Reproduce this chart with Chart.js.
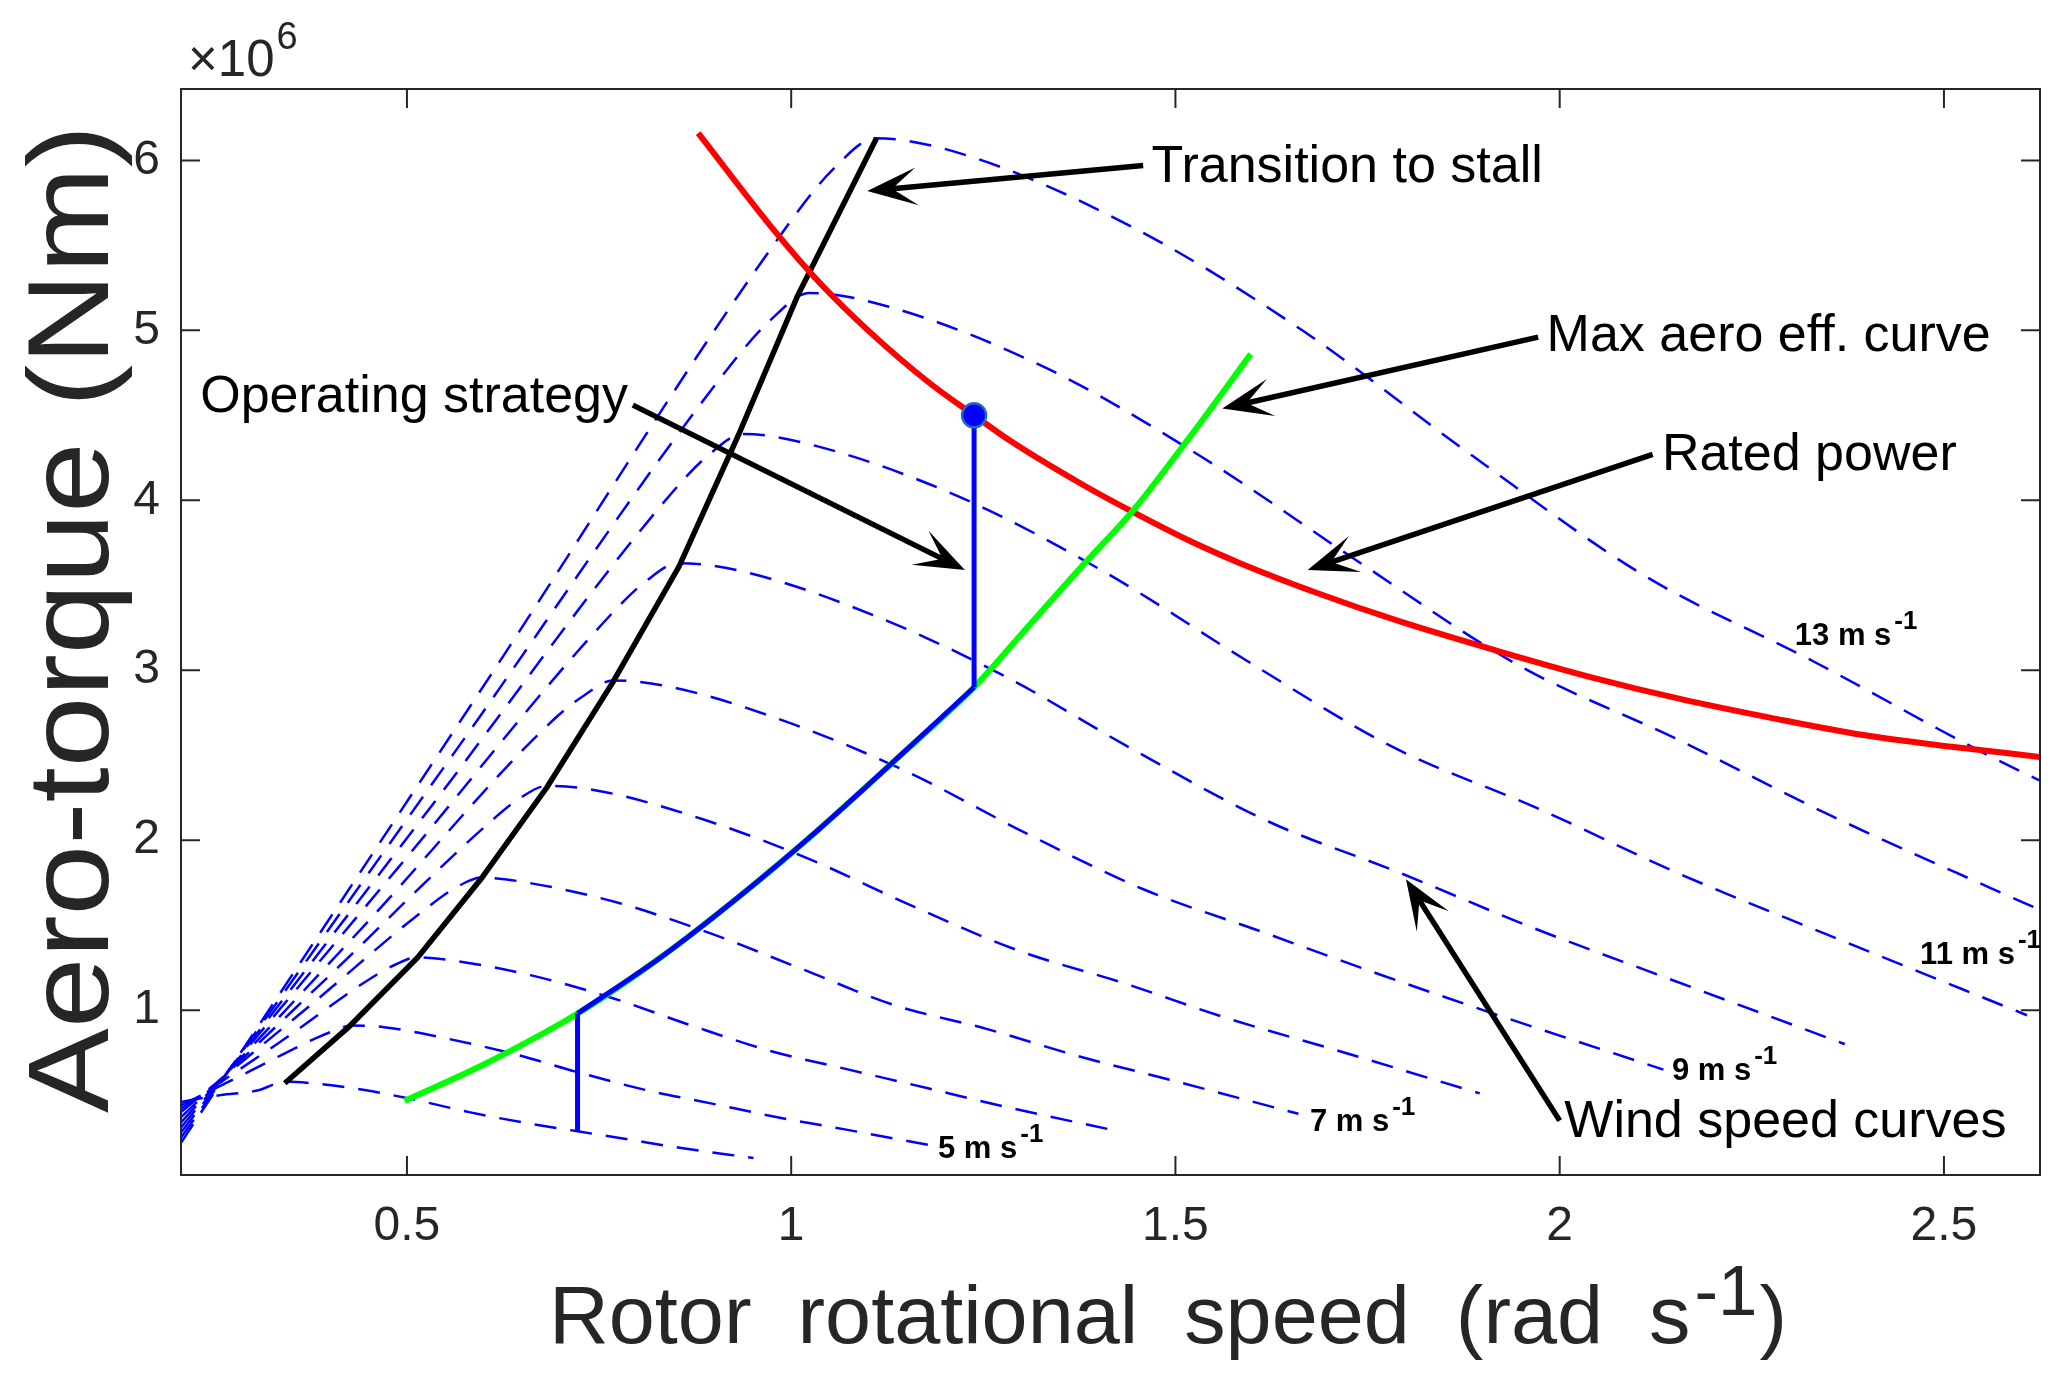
<!DOCTYPE html>
<html>
<head>
<meta charset="utf-8">
<script src="https://cdn.jsdelivr.net/npm/chart.js@4.4.0/dist/chart.umd.min.js"></script>
<style>
html, body { margin: 0; padding: 0; background: #fff; }
canvas { display: block; }
</style>
</head>
<body>
<canvas id="chart" width="2068" height="1383"></canvas>
<script>
const xTicks = [0.5, 1, 1.5, 2, 2.5];
const yTicks = [1, 2, 3, 4, 5, 6];

// wind speed curves: rotor speed (rad/s) vs aero torque (x10^6 Nm)
const ws4X = [0.206, 0.257, 0.308, 0.325, 0.342, 0.376, 0.445, 0.513, 0.581, 0.650, 0.718, 0.787, 0.855, 0.951];
const ws4T = [0.46, 0.50, 0.53, 0.56, 0.58, 0.57, 0.53, 0.47, 0.40, 0.34, 0.29, 0.24, 0.19, 0.13];
const ws5X = [0.206, 0.295, 0.384, 0.406, 0.427, 0.470, 0.555, 0.641, 0.726, 0.811, 0.897, 0.982, 1.068, 1.187];
const ws5T = [0.44, 0.64, 0.84, 0.88, 0.91, 0.90, 0.83, 0.74, 0.63, 0.53, 0.45, 0.37, 0.30, 0.20];
const ws6X = [0.206, 0.334, 0.461, 0.486, 0.512, 0.563, 0.666, 0.768, 0.870, 0.973, 1.075, 1.178, 1.280, 1.423];
const ws6T = [0.42, 0.81, 1.21, 1.27, 1.31, 1.29, 1.20, 1.07, 0.91, 0.76, 0.65, 0.54, 0.43, 0.29];
const ws7X = [0.206, 0.372, 0.537, 0.567, 0.597, 0.657, 0.776, 0.896, 1.015, 1.134, 1.254, 1.373, 1.493, 1.660];
const ws7T = [0.40, 1.02, 1.64, 1.73, 1.78, 1.75, 1.63, 1.45, 1.24, 1.03, 0.89, 0.73, 0.59, 0.39];
const ws8X = [0.206, 0.410, 0.614, 0.648, 0.682, 0.750, 0.887, 1.023, 1.159, 1.296, 1.432, 1.569, 1.705, 1.896];
const ws8T = [0.37, 1.25, 2.13, 2.25, 2.32, 2.29, 2.12, 1.89, 1.61, 1.35, 1.16, 0.95, 0.77, 0.51];
const ws9X = [0.206, 0.449, 0.691, 0.730, 0.768, 0.845, 0.998, 1.152, 1.306, 1.459, 1.613, 1.766, 1.920, 2.135];
const ws9T = [0.34, 1.52, 2.71, 2.85, 2.94, 2.90, 2.69, 2.40, 2.04, 1.71, 1.46, 1.21, 0.97, 0.65];
const ws10X = [0.206, 0.487, 0.768, 0.810, 0.853, 0.938, 1.109, 1.280, 1.450, 1.621, 1.791, 1.962, 2.133, 2.371];
const ws10T = [0.31, 1.83, 3.34, 3.52, 3.63, 3.58, 3.32, 2.96, 2.52, 2.11, 1.81, 1.49, 1.20, 0.80];
const ws11X = [0.206, 0.525, 0.844, 0.891, 0.938, 1.032, 1.219, 1.407, 1.595, 1.782, 1.970, 2.157, 2.345, 2.608];
const ws11T = [0.28, 2.16, 4.04, 4.26, 4.39, 4.32, 4.02, 3.58, 3.05, 2.55, 2.19, 1.80, 1.45, 0.97];
const ws12X = [0.206, 0.564, 0.922, 0.973, 1.024, 1.126, 1.331, 1.536, 1.741, 1.946, 2.150, 2.355, 2.560, 2.625];
const ws12T = [0.25, 2.53, 4.80, 5.06, 5.22, 5.14, 4.78, 4.25, 3.63, 3.03, 2.60, 2.14, 1.72, 1.59];
const ws13X = [0.206, 0.603, 0.999, 1.055, 1.110, 1.221, 1.443, 1.665, 1.887, 2.109, 2.331, 2.553, 2.625];
const ws13T = [0.22, 2.93, 5.64, 5.95, 6.13, 6.04, 5.61, 5.00, 4.26, 3.56, 3.05, 2.51, 2.35];

// transition to stall (through the curve peaks)
const stallX = [0.341, 0.424, 0.514, 0.596, 0.682, 0.768, 0.854, 0.931, 1.008, 1.111];
const stallT = [0.57, 0.90, 1.31, 1.77, 2.31, 2.93, 3.61, 4.38, 5.20, 6.13];

// rated power
const ratedX = [0.879, 0.981, 1.037, 1.100, 1.180, 1.238, 1.285, 1.380, 1.445, 1.519, 1.584, 1.687, 1.790, 1.922, 2.040, 2.158, 2.275, 2.393, 2.510, 2.625];
const ratedT = [6.16, 5.57, 5.28, 5.00, 4.69, 4.50, 4.35, 4.09, 3.93, 3.76, 3.63, 3.45, 3.29, 3.11, 2.96, 2.83, 2.72, 2.62, 2.55, 2.49];

// max aero efficiency
const maxEffX = [0.497, 0.600, 0.722, 0.830, 0.930, 1.030, 1.140, 1.238, 1.307, 1.380, 1.445, 1.515, 1.598];
const maxEffT = [0.466, 0.68, 0.98, 1.31, 1.66, 2.04, 2.49, 2.90, 3.25, 3.62, 3.94, 4.35, 4.86];

// operating strategy
const opX = [0.722, 0.830, 0.930, 1.030, 1.140, 1.238];
const opT = [0.98, 1.31, 1.66, 2.04, 2.49, 2.90];
const opLowX = [0.722, 0.722];
const opLowT = [0.285, 0.98];
const opHighX = [1.238, 1.238];
const opHighT = [2.90, 4.50];
const ratedPointX = [1.238];
const ratedPointT = [4.50];

const windLabels = ['5', '7', '9', '11', '13'];

const FONT = "'Liberation Sans', Arial, Helvetica, sans-serif";
const AXIS = '#262626';

const pts = (xs, ts) => xs.map((v, i) => ({ x: v, y: ts[i] }));

const windCurves = [
  [ws4X, ws4T], [ws5X, ws5T], [ws6X, ws6T], [ws7X, ws7T], [ws8X, ws8T],
  [ws9X, ws9T], [ws10X, ws10T], [ws11X, ws11T], [ws12X, ws12T], [ws13X, ws13T]
].map(([xs, ts]) => ({
  data: pts(xs, ts),
  showLine: true,
  borderColor: '#0000ff',
  borderWidth: 2.5,
  borderDash: [22, 14],
  pointRadius: 0,
  cubicInterpolationMode: 'monotone',
  order: 10
}));

const solid = (xs, ts, color, width, order, smooth) => ({
  data: pts(xs, ts),
  showLine: true,
  borderColor: color,
  borderWidth: width,
  pointRadius: 0,
  cubicInterpolationMode: smooth ? 'monotone' : 'default',
  tension: 0,
  order: order
});

// text annotations with arrows, in data coordinates
const notes = [
  { text: 'Transition to stall', x: 1.469, y: 5.87, from: [1.458, 5.97], to: [1.099, 5.82] },
  { text: 'Max aero eff. curve', x: 1.983, y: 4.88, from: [1.972, 4.96], to: [1.561, 4.54] },
  { text: 'Rated power', x: 2.133, y: 4.18, from: [2.121, 4.27], to: [1.672, 3.59] },
  { text: 'Operating strategy', x: 0.231, y: 4.52, from: [0.794, 4.56], to: [1.226, 3.59] },
  { text: 'Wind speed curves', x: 2.006, y: 0.253, from: [2.0, 0.35], to: [1.80, 1.77] }
];
const windLabelPos = [[1.191, 0.13], [1.675, 0.29], [2.146, 0.59], [2.469, 1.27], [2.306, 3.15]];

function arrow(ctx, x1, y1, x2, y2) {
  const a = Math.atan2(y2 - y1, x2 - x1);
  const ux = Math.cos(a), uy = Math.sin(a);
  const px = -uy, py = ux;
  const L = 50, W = 19, N = 25;
  ctx.beginPath();
  ctx.moveTo(x1, y1);
  ctx.lineTo(x2 - ux * N, y2 - uy * N);
  ctx.lineWidth = 5.5;
  ctx.stroke();
  ctx.beginPath();
  ctx.moveTo(x2, y2);
  ctx.lineTo(x2 - ux * L + px * W, y2 - uy * L + py * W);
  ctx.lineTo(x2 - ux * N, y2 - uy * N);
  ctx.lineTo(x2 - ux * L - px * W, y2 - uy * L - py * W);
  ctx.closePath();
  ctx.fill();
}

function supText(ctx, x, y, main, sup, mainFont, supFont, rise, gap) {
  ctx.font = mainFont;
  ctx.fillText(main, x, y);
  const w = ctx.measureText(main).width;
  ctx.font = supFont;
  ctx.fillText(sup, x + w + gap, y - rise);
  return x + w + gap + ctx.measureText(sup).width;
}

const decorations = {
  id: 'decorations',
  afterDraw(chart) {
    const { ctx, chartArea: a, scales: { x, y } } = chart;
    ctx.save();

    // box and inward ticks
    ctx.strokeStyle = AXIS;
    ctx.lineWidth = 2;
    ctx.strokeRect(a.left, a.top, a.right - a.left, a.bottom - a.top);
    ctx.beginPath();
    xTicks.forEach(v => {
      const p = x.getPixelForValue(v);
      ctx.moveTo(p, a.bottom); ctx.lineTo(p, a.bottom - 19);
      ctx.moveTo(p, a.top); ctx.lineTo(p, a.top + 19);
    });
    yTicks.forEach(v => {
      const p = y.getPixelForValue(v);
      ctx.moveTo(a.left, p); ctx.lineTo(a.left + 19, p);
      ctx.moveTo(a.right, p); ctx.lineTo(a.right - 19, p);
    });
    ctx.stroke();

    // annotations
    ctx.fillStyle = '#000';
    ctx.strokeStyle = '#000';
    ctx.textBaseline = 'alphabetic';
    ctx.textAlign = 'left';
    notes.forEach(n => {
      ctx.font = '52px ' + FONT;
      ctx.fillText(n.text, x.getPixelForValue(n.x), y.getPixelForValue(n.y));
      arrow(ctx, x.getPixelForValue(n.from[0]), y.getPixelForValue(n.from[1]),
        x.getPixelForValue(n.to[0]), y.getPixelForValue(n.to[1]));
    });

    windLabels.forEach((w, i) => {
      const [lx, ly] = windLabelPos[i];
      supText(ctx, x.getPixelForValue(lx), y.getPixelForValue(ly), w + ' m s', '-1',
        'bold 31px ' + FONT, 'bold 26px ' + FONT, 16, 3);
    });

    // exponent
    ctx.fillStyle = AXIS;
    supText(ctx, 188, 76, '\u00d710', '6', '51px ' + FONT, '38px ' + FONT, 27, 2);

    // x title
    ctx.save();
    ctx.font = '82px ' + FONT;
    const t1 = 'Rotor  rotational  speed  (rad  s';
    const w1 = ctx.measureText(t1).width;
    ctx.font = '70px ' + FONT;
    const w2 = ctx.measureText('-1').width;
    ctx.font = '82px ' + FONT;
    const w3 = ctx.measureText(')').width;
    const sx = 1238 / (w1 + w2 + w3 + 6);
    ctx.translate(549, 1343);
    ctx.scale(sx, 1);
    const end = supText(ctx, 0, 0, t1, '-1', '82px ' + FONT, '70px ' + FONT, 28, 4);
    ctx.font = '82px ' + FONT;
    ctx.fillText(')', end + 2, 0);
    ctx.restore();

    // y title
    ctx.save();
    ctx.font = '115px ' + FONT;
    const yt = 'Aero-torque (Nm)';
    const yw = ctx.measureText(yt).width;
    ctx.translate(108, 619);
    ctx.rotate(-Math.PI / 2);
    ctx.scale(988 / yw, 1);
    ctx.textAlign = 'center';
    ctx.fillText(yt, 0, 0);
    ctx.restore();

    ctx.restore();
  }
};

new Chart(document.getElementById('chart'), {
  type: 'scatter',
  data: {
    datasets: [
      ...windCurves,
      solid(stallX, stallT, '#000000', 5.5, 8, false),
      solid(ratedX, ratedT, '#ff0000', 6, 6, true),
      solid(maxEffX, maxEffT, '#00ff00', 6, 5, true),
      solid(opX, opT, '#0000ff', 5, 3, true),
      solid(opLowX, opLowT, '#0000ff', 5, 3, false),
      solid(opHighX, opHighT, '#0000ff', 5, 3, false),
      {
        data: pts(ratedPointX, ratedPointT),
        pointRadius: 12,
        pointBackgroundColor: '#0000ff',
        pointBorderColor: '#1f6fb5',
        pointBorderWidth: 2.5,
        order: 1
      }
    ]
  },
  options: {
    responsive: false,
    devicePixelRatio: 1,
    animation: false,
    layout: { padding: { left: 0, right: 28, top: 89, bottom: 0 } },
    plugins: { legend: { display: false }, tooltip: { enabled: false } },
    scales: {
      x: {
        type: 'linear',
        min: 0.206,
        max: 2.625,
        grid: { display: false, drawTicks: false },
        border: { display: false },
        afterBuildTicks: s => { s.ticks = xTicks.map(v => ({ value: v })); },
        afterFit: s => { s.height = 208; },
        ticks: {
          color: AXIS, padding: 23, maxRotation: 0,
          font: { size: 48, family: FONT },
          callback: v => String(v)
        }
      },
      y: {
        type: 'linear',
        min: 0.03,
        max: 6.42,
        grid: { display: false, drawTicks: false },
        border: { display: false },
        afterBuildTicks: s => { s.ticks = yTicks.map(v => ({ value: v })); },
        afterFit: s => { s.width = 181; },
        ticks: {
          color: AXIS, padding: 21,
          font: { size: 48, family: FONT },
          callback: v => String(v)
        }
      }
    }
  },
  plugins: [decorations]
});
</script>
</body>
</html>
